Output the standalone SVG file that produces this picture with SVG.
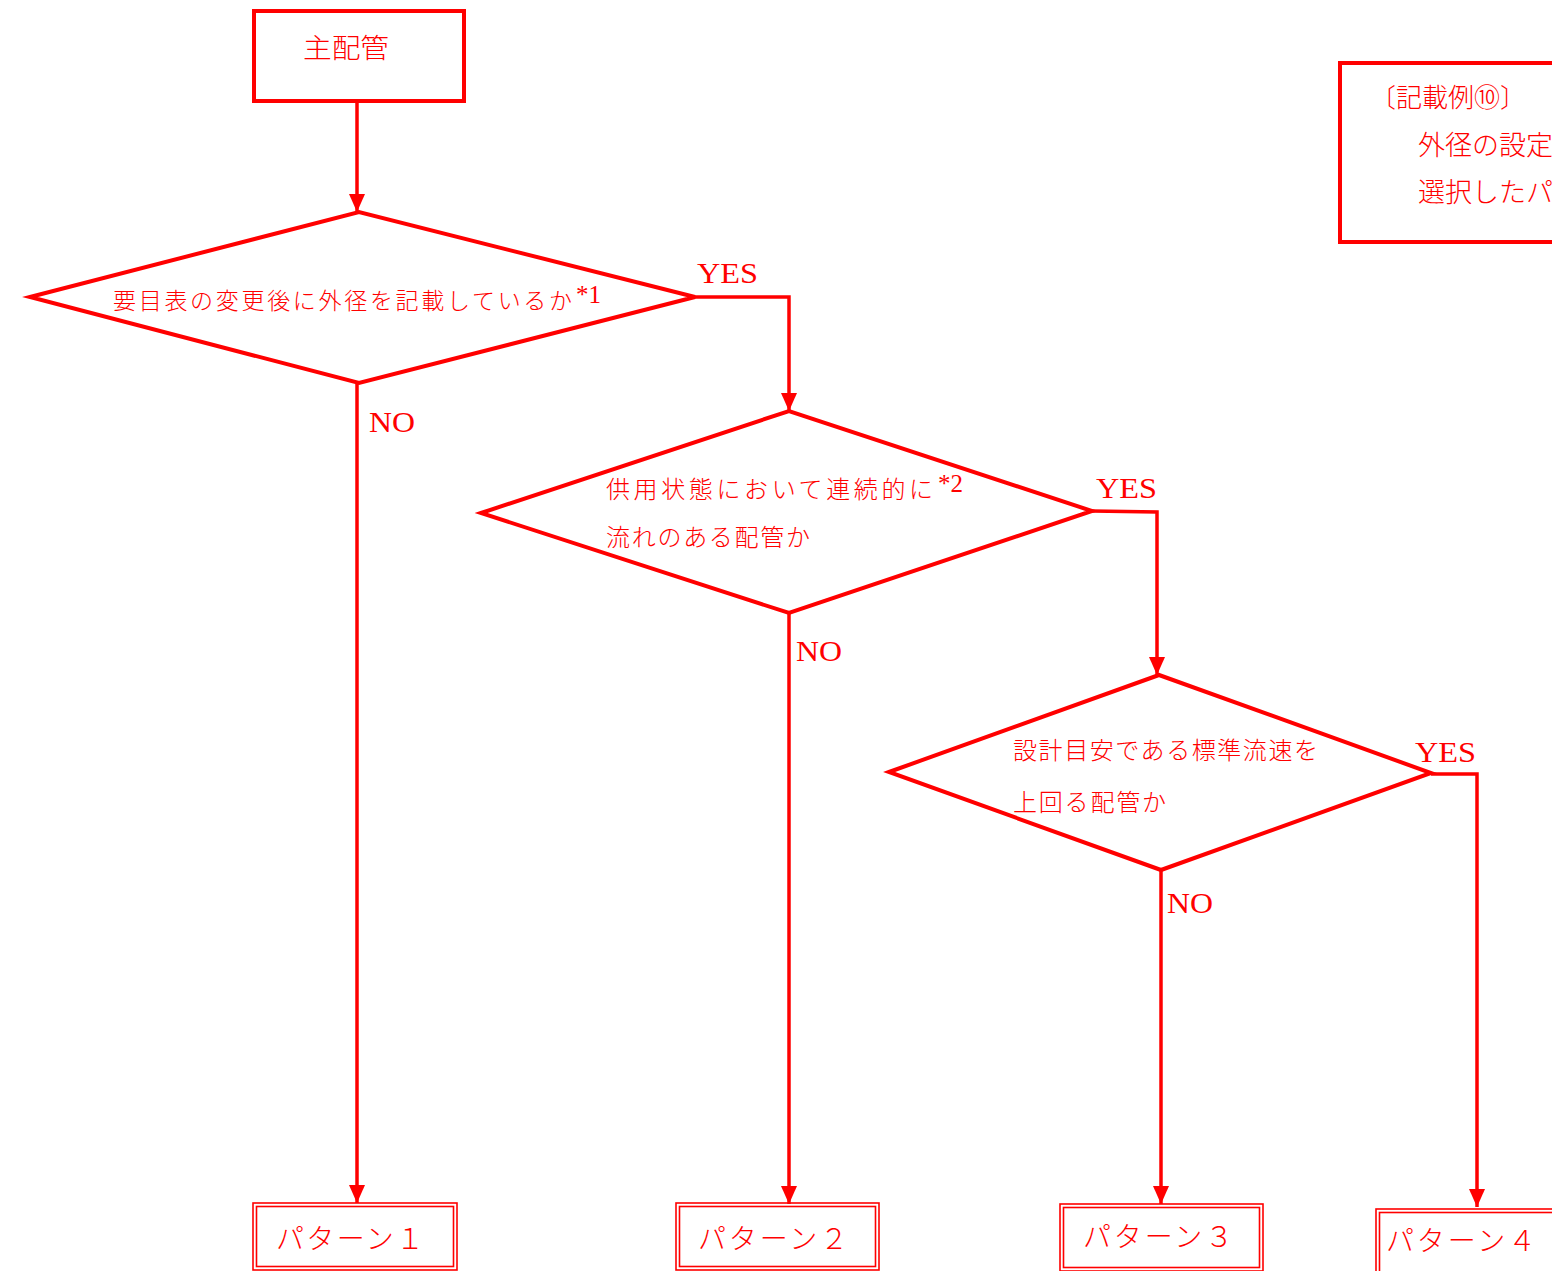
<svg xmlns="http://www.w3.org/2000/svg" width="1552" height="1271" viewBox="0 0 1552 1271">
<style>
.sh{fill:#fff;stroke:#ff0000;stroke-width:4}
.dbl{fill:none;stroke:#ff0000;stroke-width:1.6}
.ln{fill:none;stroke:#ff0000;stroke-width:3.5}
.jp{fill:#ff0000;font-family:"Noto Sans CJK JP","Liberation Serif",serif;font-weight:300}
.lat{fill:#ff0000;font-family:"Liberation Serif","DejaVu Serif",serif}
</style>
<defs>
<marker id="ah" markerUnits="userSpaceOnUse" markerWidth="18" markerHeight="16" refX="18" refY="8" orient="auto" viewBox="0 0 18 16">
<path d="M0,0 L18,8 L0,16 z" fill="#ff0000"/>
</marker>
</defs>
<rect width="1552" height="1271" fill="#fff"/>

<g id="connectors">
<path class="ln" d="M357,101 V212" marker-end="url(#ah)"/>
<path class="ln" d="M695,297 H789 V411" marker-end="url(#ah)"/>
<path class="ln" d="M357,383 V1203" marker-end="url(#ah)"/>
<path class="ln" d="M1092,511 L1157,512 V675" marker-end="url(#ah)"/>
<path class="ln" d="M789,613 V1204" marker-end="url(#ah)"/>
<path class="ln" d="M1431,774 H1477 V1207" marker-end="url(#ah)"/>
<path class="ln" d="M1161,870 V1204" marker-end="url(#ah)"/>
<text class="lat" x="697" y="283" font-size="30" textLength="61" lengthAdjust="spacingAndGlyphs">YES</text>
<text class="lat" x="369" y="432" font-size="30" textLength="46" lengthAdjust="spacingAndGlyphs">NO</text>
<text class="lat" x="1096" y="498" font-size="30" textLength="61" lengthAdjust="spacingAndGlyphs">YES</text>
<text class="lat" x="796" y="661" font-size="30" textLength="46" lengthAdjust="spacingAndGlyphs">NO</text>
<text class="lat" x="1415" y="762" font-size="30" textLength="61" lengthAdjust="spacingAndGlyphs">YES</text>
<text class="lat" x="1167" y="913" font-size="30" textLength="46" lengthAdjust="spacingAndGlyphs">NO</text>
</g>

<g id="main-pipe">
<rect class="sh" x="254" y="11" width="210" height="90"/>
<text class="jp" x="303" y="58" font-size="27" textLength="86" lengthAdjust="spacingAndGlyphs">主配管</text>
</g>

<g id="note">
<rect class="sh" x="1340" y="63" width="230" height="179" stroke-width="5"/>
<text class="jp" x="1370" y="107" font-size="26">〔記載例⑩〕</text>
<text class="jp" x="1418" y="155" font-size="27">外径の設定</text>
<text class="jp" x="1418" y="202" font-size="27">選択したパ</text>
</g>

<g id="decision1">
<polygon class="sh" points="30,297 359,212 695,297 359,383"/>
<text class="jp" x="113" y="309" font-size="23" textLength="459" lengthAdjust="spacing">要目表の変更後に外径を記載しているか</text>
<text class="lat" x="576" y="303" font-size="25">*1</text>
</g>

<g id="decision2">
<polygon class="sh" points="481,513 789,411 1092,511 789,613"/>
<text class="jp" x="606" y="498" font-size="24" textLength="327" lengthAdjust="spacing">供用状態において連続的に</text>
<text class="lat" x="938" y="492" font-size="25">*2</text>
<text class="jp" x="606" y="546" font-size="24" textLength="204" lengthAdjust="spacing">流れのある配管か</text>
</g>

<g id="decision3">
<polygon class="sh" points="889,772 1159,675 1431,773 1161,870"/>
<text class="jp" x="1013" y="759" font-size="24" textLength="305" lengthAdjust="spacing">設計目安である標準流速を</text>
<text class="jp" x="1013" y="811" font-size="24" textLength="153" lengthAdjust="spacing">上回る配管か</text>
</g>

<g id="pattern1">
<rect class="dbl" x="253" y="1203" width="204" height="67"/>
<rect class="dbl" x="256.5" y="1206.5" width="197" height="60"/>
<text class="jp" x="276" y="1249" font-size="28" textLength="148" lengthAdjust="spacing">パターン１</text>
</g>

<g id="pattern2">
<rect class="dbl" x="676" y="1203" width="203" height="67"/>
<rect class="dbl" x="679.5" y="1206.5" width="196" height="60"/>
<text class="jp" x="698" y="1249" font-size="28" textLength="150" lengthAdjust="spacing">パターン２</text>
</g>

<g id="pattern3">
<rect class="dbl" x="1060" y="1204" width="203" height="67"/>
<rect class="dbl" x="1063.5" y="1207.5" width="196" height="60"/>
<text class="jp" x="1083" y="1247" font-size="28" textLength="150" lengthAdjust="spacing">パターン３</text>
</g>

<g id="pattern4">
<rect class="dbl" x="1376" y="1209" width="200" height="67"/>
<rect class="dbl" x="1379.5" y="1212.5" width="193" height="60"/>
<text class="jp" x="1386" y="1251" font-size="28" textLength="150" lengthAdjust="spacing">パターン４</text>
</g>
</svg>
